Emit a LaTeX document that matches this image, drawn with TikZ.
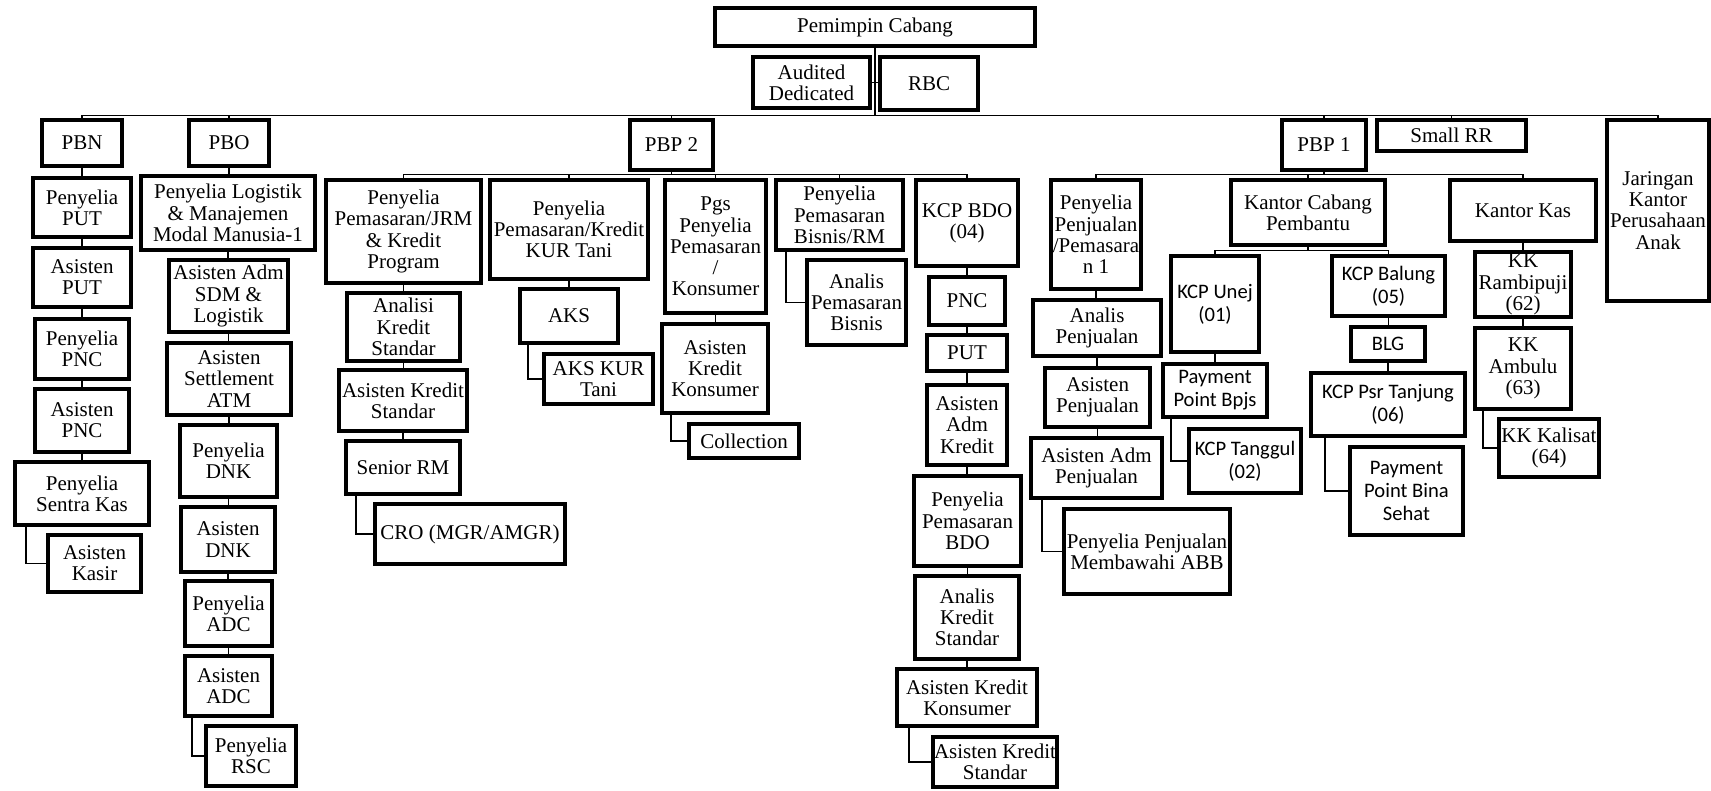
\documentclass[tikz,border=0pt]{standalone}
\usepackage{fontspec}
\setmainfont{Liberation Serif}
\newfontfamily\calfont{Carlito}
\newcommand\tnrfont{\fontsize{10.5}{10.6}\selectfont}
\newcommand\calsize{\calfont\fontsize{10.3}{11.6}\selectfont}
\tikzset{
  box/.style={draw, line width=2.1pt, rectangle, inner sep=0pt, align=center, font=\tnrfont},
  cal/.style={font=\calsize},
  ln/.style={line width=0.7pt}
}
\newcommand\bx[7][]{%
  \pgfmathsetmacro\bxw{(#5-#3-4)*0.5}%
  \pgfmathsetmacro\bxh{(#6-#4-4)*0.5}%
  \node[box,#1,minimum width=\bxw pt,minimum height=\bxh pt] (#2) at ({(#3+#5)/2},{(#4+#6)/2}) {#7};}
\newcommand\dn[2]{\draw[ln] (#1.south) -- (#1.south |- #2.north);}
\newcommand\el[3]{\draw[ln] (#1.south west) ++(#3,0) |- (#2.west);}
\begin{document}
\begin{tikzpicture}[x=0.5pt,y=-0.5pt]
\useasboundingbox (0,0) rectangle (1711,791);
% top
\bx{PC}{713}{6}{1037}{48}{Pemimpin Cabang}
\bx{AD}{751}{55}{872}{110}{Audited\\Dedicated}
\bx{RBC}{878}{55}{980}{112}{RBC}
\bx{PBN}{40}{118}{124}{168}{PBN}
\bx{PBO}{187}{118}{271}{168}{PBO}
\bx{PBPb}{628}{118}{715}{172}{PBP 2}
\bx{PBPa}{1280}{118}{1368}{172}{PBP 1}
\bx{SRR}{1375}{118}{1528}{153}{Small RR}
\bx{JKP}{1605}{118}{1711}{303}{Jaringan\\Kantor\\Perusahaan\\Anak}
% PBN column
\bx{PPUT}{31}{176}{133}{239}{Penyelia\\PUT}
\bx{APUT}{31}{246}{133}{309}{Asisten\\PUT}
\bx{PPNC}{33}{317}{131}{381}{Penyelia\\PNC}
\bx{APNC}{33}{387}{131}{454}{Asisten\\PNC}
\bx{PSK}{13}{460}{151}{527}{Penyelia\\Sentra Kas}
\bx{AKSR}{46}{533}{143}{594}{Asisten\\Kasir}
% PBO column
\bx{PLM}{139}{174}{317}{252}{Penyelia Logistik\\\& Manajemen\\Modal Manusia-1}
\bx{AAS}{167}{258}{290}{334}{Asisten Adm\\SDM \&\\Logistik}
\bx{ASA}{165}{341}{293}{417}{Asisten\\Settlement\\ATM}
\bx{PDNK}{178}{423}{279}{499}{Penyelia\\DNK}
\bx{ADNK}{179}{505}{277}{574}{Asisten\\DNK}
\bx{PADC}{183}{579}{274}{648}{Penyelia\\ADC}
\bx{AADC}{183}{654}{274}{718}{Asisten\\ADC}
\bx{PRSC}{204}{724}{298}{788}{Penyelia\\RSC}
% PBP 2
\bx{PJRM}{324}{178}{483}{285}{Penyelia\\Pemasaran/JRM\\\& Kredit\\Program}
\bx{AKSa}{345}{291}{462}{363}{Analisi\\Kredit\\Standar}
\bx{AKSt}{337}{368}{469}{433}{Asisten Kredit\\Standar}
\bx{SRM}{344}{439}{462}{496}{Senior RM}
\bx{CRO}{373}{502}{567}{566}{CRO (MGR/AMGR)}
\bx{PKUR}{488}{178}{650}{281}{Penyelia\\Pemasaran/Kredit\\KUR Tani}
\bx{AKS}{518}{287}{620}{345}{AKS}
\bx{AKSKT}{542}{352}{655}{406}{AKS KUR\\Tani}
\bx{PGS}{663}{178}{768}{315}{Pgs\\Penyelia\\Pemasaran\\/\\Konsumer}
\bx{AKK}{660}{322}{770}{415}{Asisten\\Kredit\\Konsumer}
\bx{COL}{687}{422}{801}{460}{Collection}
\bx{PPB}{774}{178}{905}{252}{Penyelia\\Pemasaran\\Bisnis/RM}
\bx{APB}{805}{258}{908}{347}{Analis\\Pemasaran\\Bisnis}
\bx{KBDO}{914}{178}{1020}{268}{KCP BDO\\(04)}
\bx{PNC}{927}{275}{1007}{327}{PNC}
\bx{PUT}{925}{333}{1009}{373}{PUT}
\bx{AAK}{925}{383}{1009}{467}{Asisten\\Adm\\Kredit}
\bx{PPBDO}{912}{474}{1023}{568}{Penyelia\\Pemasaran\\BDO}
\bx{AKSB}{913}{574}{1021}{661}{Analis\\Kredit\\Standar}
\bx{AKKB}{895}{667}{1039}{728}{Asisten Kredit\\Konsumer}
\bx{AKSBb}{931}{735}{1059}{789}{Asisten Kredit\\Standar}
% PBP 1
\bx{PPJ}{1049}{178}{1143}{291}{Penyelia\\Penjualan\\/Pemasara\\n 1}
\bx{APJ}{1031}{298}{1163}{358}{Analis\\Penjualan}
\bx{ASPJ}{1043}{366}{1152}{429}{Asisten\\Penjualan}
\bx{AAPJ}{1029}{436}{1164}{500}{Asisten Adm\\Penjualan}
\bx{ABB}{1062}{507}{1232}{596}{Penyelia Penjualan\\Membawahi ABB}
\bx{KCPb}{1229}{178}{1387}{247}{Kantor Cabang\\Pembantu}
\bx[cal]{KUNEJ}{1169}{254}{1261}{354}{KCP Unej\\(01)}
\bx[cal]{PPBPJS}{1161}{362}{1269}{419}{Payment\\Point Bpjs}
\bx[cal]{KTG}{1187}{427}{1303}{495}{KCP Tanggul\\(02)}
\bx[cal]{KBAL}{1330}{254}{1447}{318}{KCP Balung\\(05)}
\bx[cal]{BLG}{1349}{325}{1427}{363}{BLG}
\bx[cal]{KPT}{1309}{371}{1467}{438}{KCP Psr Tanjung\\(06)}
\bx[cal]{PPBS}{1348}{445}{1465}{537}{Payment\\Point Bina\\Sehat}
\bx{KKAS}{1448}{178}{1598}{243}{Kantor Kas}
\bx{KKR}{1473}{250}{1573}{319}{KK\\Rambipuji\\(62)}
\bx{KKA}{1473}{326}{1573}{411}{KK\\Ambulu\\(63)}
\bx{KKK}{1497}{417}{1601}{479}{KK Kalisat\\(64)}
% helper levels
\coordinate (bus) at (0,115.5);
\coordinate (bb) at (0,174.5);
\coordinate (bk) at (0,250.5);
% top connectors
\draw[ln] (PC.south) -- (PC.south |- bus);
\draw[ln] (AD.east) -- (RBC.west |- AD.east);
\draw[ln] (PBN.north) -- (PBN.north |- bus) -| (JKP.north);
\foreach \n in {PBO,PBPb,PBPa,SRR} \draw[ln] (\n.north) -- (\n.north |- bus);
% PBN chain
\dn{PBN}{PPUT}\dn{PPUT}{APUT}\dn{APUT}{PPNC}\dn{PPNC}{APNC}\dn{APNC}{PSK}
\el{PSK}{AKSR}{13}
% PBO chain
\dn{PBO}{PLM}\dn{PLM}{AAS}\dn{AAS}{ASA}\dn{ASA}{PDNK}\dn{PDNK}{ADNK}\dn{ADNK}{PADC}\dn{PADC}{AADC}
\el{AADC}{PRSC}{9}
% PBP 2
\draw[ln] (PBPb.south) -- (PBPb.south |- bb);
\draw[ln] (PJRM.north) -- (PJRM.north |- bb) -| (KBDO.north);
\foreach \n in {PKUR,PGS,PPB} \draw[ln] (\n.north) -- (\n.north |- bb);
\dn{PJRM}{AKSa}\dn{AKSa}{AKSt}\dn{AKSt}{SRM}
\el{SRM}{CRO}{12}
\dn{PKUR}{AKS}
\el{AKS}{AKSKT}{10}
\dn{PGS}{AKK}
\el{AKK}{COL}{11}
\el{PPB}{APB}{12}
\dn{KBDO}{PNC}\dn{PNC}{PUT}\dn{PUT}{AAK}\dn{AAK}{PPBDO}\dn{PPBDO}{AKSB}\dn{AKSB}{AKKB}
\el{AKKB}{AKSBb}{14}
% PBP 1
\draw[ln] (PBPa.south) -- (PBPa.south |- bb);
\draw[ln] (PPJ.north) -- (PPJ.north |- bb) -| (KKAS.north);
\draw[ln] (KCPb.north) -- (KCPb.north |- bb);
\dn{PPJ}{APJ}\dn{APJ}{ASPJ}\dn{ASPJ}{AAPJ}
\el{AAPJ}{ABB}{13}
\draw[ln] (KCPb.south) -- (KCPb.south |- bk);
\draw[ln] (KUNEJ.north) -- (KUNEJ.north |- bk) -| (KBAL.north);
\dn{KUNEJ}{PPBPJS}
\el{PPBPJS}{KTG}{10}
\dn{KBAL}{BLG}\dn{BLG}{KPT}
\el{KPT}{PPBS}{16}
\dn{KKAS}{KKR}\dn{KKR}{KKA}
\el{KKA}{KKK}{10}
\end{tikzpicture}
\end{document}
